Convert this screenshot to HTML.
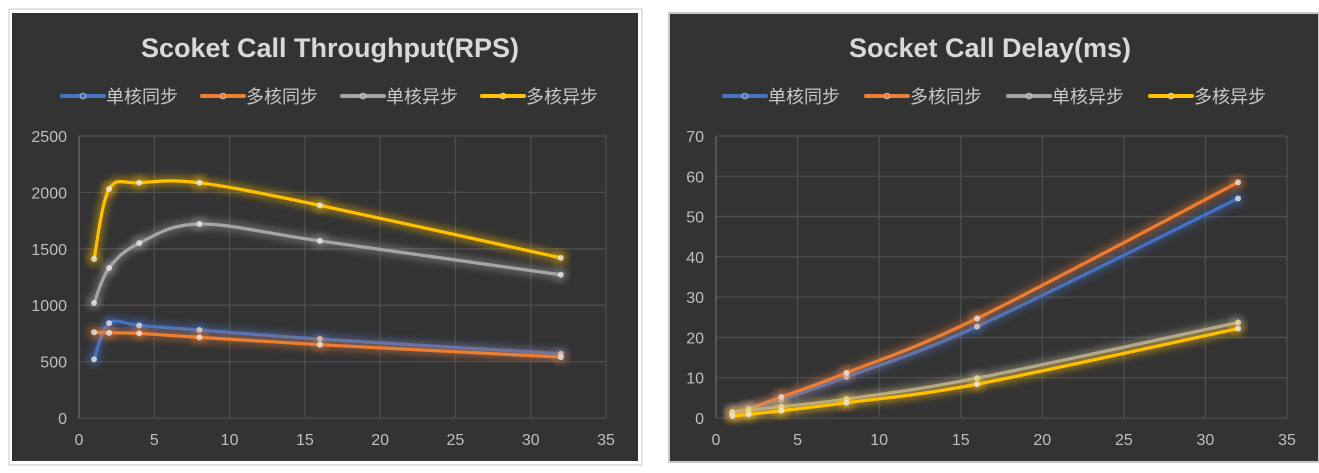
<!DOCTYPE html>
<html><head><meta charset="utf-8">
<style>
html,body{margin:0;padding:0;background:#fff;width:1319px;height:473px;overflow:hidden}
svg{display:block;font-family:"Liberation Sans","Noto Sans CJK SC",sans-serif}
</style></head>
<body>
<svg id="svg" width="1319" height="473" viewBox="0 0 1319 473">
<defs>
<filter id="glow" x="-20%" y="-20%" width="140%" height="140%"><feGaussianBlur stdDeviation="4"/></filter>
</defs>
<rect x="9" y="9" width="633" height="456" fill="none" stroke="#c8c8c8" stroke-width="1"/>
<rect x="12" y="13" width="626" height="448" fill="#333333"/>
<rect x="669" y="13" width="650" height="449" fill="#333333" stroke="#c8c8c8" stroke-width="2"/>
<g id="c1"></g>
<g id="c2"></g>
</svg>
<script>
const xs = [1, 2, 4, 8, 16, 32];
const seriesNames = ['单核同步', '多核同步', '单核异步', '多核异步'];
const rpsSingleSync = [520, 840, 820, 780, 700, 570];
const rpsMultiSync = [760, 755, 750, 715, 650, 540];
const rpsSingleAsync = [1020, 1330, 1550, 1720, 1570, 1270];
const rpsMultiAsync = [1410, 2030, 2085, 2085, 1885, 1420];
const delaySingleSync = [1.2, 2, 4.5, 10.2, 22.7, 54.5];
const delayMultiSync = [1.3, 2.3, 5.2, 11.2, 24.7, 58.5];
const delaySingleAsync = [1.5, 1.9, 2.8, 4.7, 9.9, 23.7];
const delayMultiAsync = [0.5, 0.9, 1.8, 3.8, 8.4, 22.2];
const xTicks = [0, 5, 10, 15, 20, 25, 30, 35];
const rpsTicks = [0, 500, 1000, 1500, 2000, 2500];
const delayTicks = [0, 10, 20, 30, 40, 50, 60, 70];
const colors = ['#4472c4', '#ed7d31', '#a5a5a5', '#ffc000'];
const NS = 'http://www.w3.org/2000/svg';
function mk(p, t, a) { const e = document.createElementNS(NS, t); for (const k in a) e.setAttribute(k, a[k]); p.appendChild(e); return e; }
function smooth(pts) {
  let d = 'M' + pts[0][0] + ',' + pts[0][1];
  for (let i = 0; i < pts.length - 1; i++) {
    const p0 = pts[i - 1] || pts[i], p1 = pts[i], p2 = pts[i + 1], p3 = pts[i + 2] || p2;
    const t = 1 / 6;
    d += ' C' + (p1[0] + (p2[0] - p0[0]) * t) + ',' + (p1[1] + (p2[1] - p0[1]) * t) + ' ' +
      (p2[0] - (p3[0] - p1[0]) * t) + ',' + (p2[1] - (p3[1] - p1[1]) * t) + ' ' + p2[0] + ',' + p2[1];
  }
  return d;
}
function chart(g, cfg) {
  const sx = v => cfg.x0 + (v / 35) * (cfg.x1 - cfg.x0);
  const sy = v => cfg.y0 - (v / cfg.ymax) * (cfg.y0 - cfg.y1);
  const t = mk(g, 'text', {x: cfg.cx, y: 57, 'text-anchor': 'middle', 'font-size': 27, 'font-weight': 'bold', fill: '#d9d9d9'});
  
  
  t.textContent = cfg.title;
  seriesNames.forEach((n, i) => {
    const lx = cfg.lx + i * cfg.lstep;
    const lg = mk(g, 'g', {});
    
    
    mk(lg, 'line', {x1: lx, y1: 96, x2: lx + 42, y2: 96, stroke: colors[i], 'stroke-width': 4, 'stroke-linecap': 'round'});
    mk(lg, 'circle', {cx: lx + 21, cy: 96, r: 3, fill: colors[i], stroke: '#ddd', 'stroke-width': 0.6});
    const tx = mk(lg, 'text', {x: lx + 44, y: 103, 'font-size': 18, fill: '#c8c8c8'});
    tx.textContent = n;
  });
  cfg.yt.forEach(v => {
    const l = mk(g, 'line', {x1: cfg.x0, x2: cfg.x1, y1: sy(v), y2: sy(v), stroke: '#4e4e4e', 'stroke-width': 1.3});
    
    
    const tx = mk(g, 'text', {x: cfg.x0 - 12, y: sy(v) + 6, 'text-anchor': 'end', 'font-size': 16, fill: '#bfbfbf'});
    
    
    tx.textContent = v;
  });
  xTicks.forEach(v => {
    const l = mk(g, 'line', {x1: sx(v), x2: sx(v), y1: cfg.y1, y2: cfg.y0, stroke: v === 0 ? '#6a6a6a' : '#4e4e4e', 'stroke-width': 1.3});
    
    
    const tx = mk(g, 'text', {x: sx(v), y: cfg.y0 + 27, 'text-anchor': 'middle', 'font-size': 16, fill: '#bfbfbf'});
    
    
    tx.textContent = v;
  });
  cfg.series.forEach((s, i) => {
    const pts = xs.map((x, j) => [sx(x), sy(s[j])]);
    const d = smooth(pts);
    const sg = mk(g, 'g', {});
    
    
    mk(sg, 'path', {d: d, fill: 'none', stroke: colors[i], 'stroke-width': 9, opacity: 0.45, filter: 'url(#glow)'});
    pts.forEach(p => mk(sg, 'circle', {cx: p[0], cy: p[1], r: 7, fill: colors[i], opacity: 0.4, filter: 'url(#glow)'}));
    const line = mk(sg, 'path', {d: d, fill: 'none', stroke: colors[i], 'stroke-width': 3.2});
    
    
    pts.forEach(p => {
      const c = mk(sg, 'circle', {cx: p[0], cy: p[1], r: 3, fill: '#e8e8e8', opacity: 0.8});
      
      
    });
  });
}
chart(document.getElementById('c1'), {title: 'Scoket Call Throughput(RPS)', cx: 330, lx: 62, lstep: 140,
  x0: 79, x1: 606, y0: 418, y1: 136, ymax: 2500, yt: rpsTicks,
  series: [rpsSingleSync, rpsMultiSync, rpsSingleAsync, rpsMultiAsync]});
chart(document.getElementById('c2'), {title: 'Socket Call Delay(ms)', cx: 990, lx: 724, lstep: 142,
  x0: 716, x1: 1287, y0: 418, y1: 136, ymax: 70, yt: delayTicks,
  series: [delaySingleSync, delayMultiSync, delaySingleAsync, delayMultiAsync]});
</script>
</body></html>
